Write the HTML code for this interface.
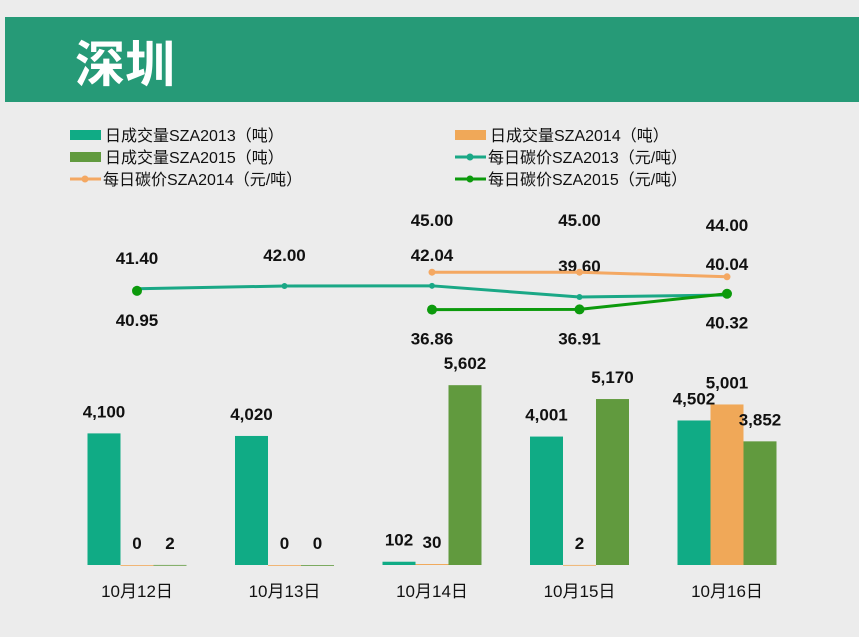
<!DOCTYPE html>
<html><head><meta charset="utf-8"><style>
body{margin:0;width:859px;height:637px;background:#ececec;overflow:hidden;font-family:"Liberation Sans","Noto Sans CJK SC",sans-serif}
#hdr{position:absolute;left:5px;top:17px;width:854px;height:85px;background:#269a77}
#ttl{position:absolute;left:70px;top:14px;color:#fff;font-size:50px;font-weight:bold;font-family:"Noto Sans CJK SC",sans-serif;line-height:60px}
</style></head><body>
<div id="hdr"><div id="ttl">深圳</div></div>
<svg id="chart" width="859" height="637" style="position:absolute;left:0;top:0" font-family="Liberation Sans, Noto Sans CJK SC, sans-serif"></svg>
<script>
const categories=["10月12日","10月13日","10月14日","10月15日","10月16日"];
const vol2013=[4100,4020,102,4001,4502];
const vol2014=[0,0,30,2,5001];
const vol2015=[2,0,5602,5170,3852];
const price2013=[41.40,42.00,42.04,39.60,40.04];
const price2014=[null,null,45.00,45.00,44.00];
const price2015=[40.95,null,36.86,36.91,40.32];
const volLabels2013=["4,100","4,020","102","4,001","4,502"];
const volLabels2014=["0","0","30","2","5,001"];
const volLabels2015=["2","0","5,602","5,170","3,852"];
const svg=document.getElementById('chart');
const NS="http://www.w3.org/2000/svg";
function mk(t,a,p){const e=document.createElementNS(NS,t);for(const k in a)e.setAttribute(k,a[k]);(p||svg).appendChild(e);return e;}
const xC=i=>137+i*147.5;
const yBar=v=>565-v*0.0321;
const yP=v=>286-(v-42)*4.6;
const cols={b13:"#10ab85",b14:"#f0a858",b15:"#619a3e",l13:"#1aa886",l14:"#f4a862",l15:"#0c9a0c"};
// legend
const leg=[["日成交量SZA2013（吨）","bar",cols.b13,70,135],["日成交量SZA2014（吨）","bar",cols.b14,455,135],["日成交量SZA2015（吨）","bar",cols.b15,70,157],["每日碳价SZA2013（元/吨）","line",cols.l13,455,157],["每日碳价SZA2014（元/吨）","line",cols.l14,70,179],["每日碳价SZA2015（元/吨）","line",cols.l15,455,179]];
leg.forEach(l=>{const g=mk('g',{});
if(l[1]=="bar"){mk('rect',{x:l[3],y:l[4]-5,width:31,height:10,fill:l[2]},g);}
else{mk('line',{x1:l[3],x2:l[3]+31,y1:l[4],y2:l[4],stroke:l[2],'stroke-width':3},g);mk('circle',{cx:l[3]+15,cy:l[4],r:3.5,fill:l[2]},g);}
const t=mk('text',{x:l[3]+(l[1]=="bar"?35:33),y:l[4]+6,'font-size':16,fill:"#111"},g);t.textContent=l[0];});
// bars
[[vol2013,volLabels2013,cols.b13,-33,'bar-2013'],[vol2014,volLabels2014,cols.b14,0,'bar-2014'],[vol2015,volLabels2015,cols.b15,33,'bar-2015']].forEach(s=>{
s[0].forEach((v,i)=>{const cx=xC(i)+s[3];const r=mk('rect',{x:cx-16.5,y:yBar(v),width:33,height:Math.max(565-yBar(v),0.8),fill:s[2]});

const t=mk('text',{x:cx,y:yBar(v)-16,'text-anchor':'middle','font-size':17,'font-weight':'bold',fill:'#111'});t.textContent=s[1][i];
});});
// x labels
categories.forEach((c,i)=>{const t=mk('text',{x:xC(i),y:597,'text-anchor':'middle','font-size':17,fill:'#111'});t.textContent=c;
});
// lines
[[price2013,cols.l13,3,-31,'line-2013'],[price2014,cols.l14,3.5,-52,'line-2014'],[price2015,cols.l15,5,29,'line-2015']].forEach(s=>{
let d="",pen=false;s[0].forEach((v,i)=>{if(v==null){pen=false;return;}d+=(pen?"L":"M")+xC(i)+" "+yP(v)+" ";pen=true;});
const p=mk('path',{d:d,fill:'none',stroke:s[1],'stroke-width':3});
s[0].forEach((v,i)=>{if(v==null)return;const c=mk('circle',{cx:xC(i),cy:yP(v),r:s[2],fill:s[1]});
const t=mk('text',{x:xC(i),y:yP(v)+s[3]+6,'text-anchor':'middle','font-size':17,'font-weight':'bold',fill:'#111'});t.textContent=v.toFixed(2);
});});
</script>
</body></html>
